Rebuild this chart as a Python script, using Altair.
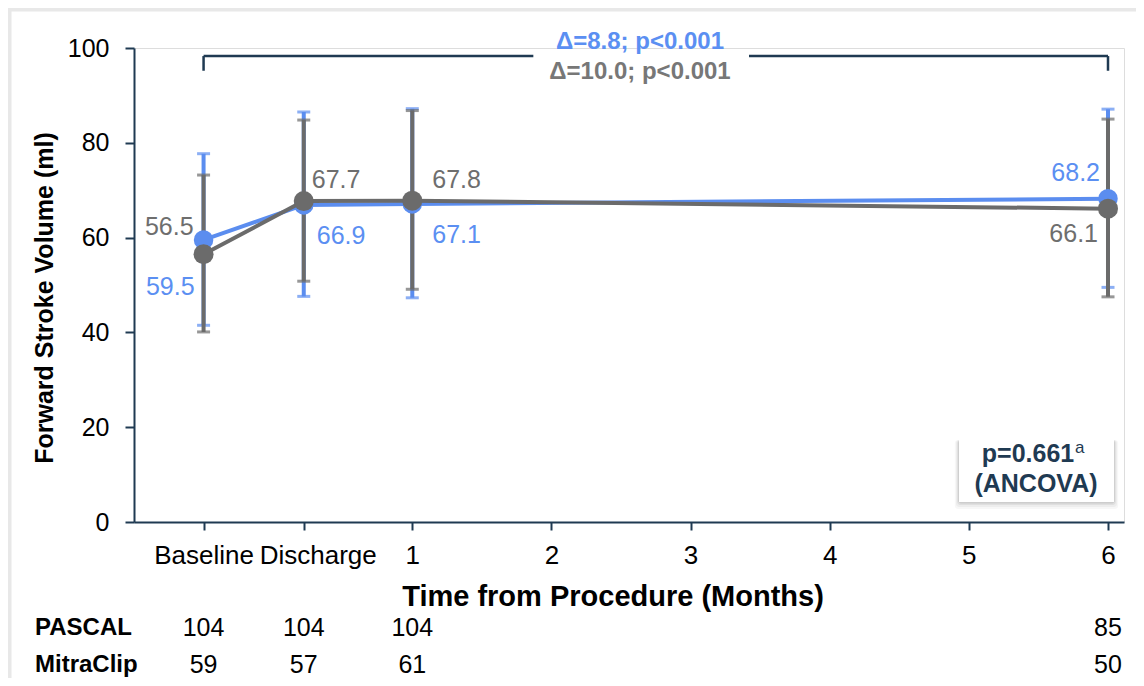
import altair as alt
import pandas as pd

# ------------------------- data -------------------------
tick_pos = [-0.5, 0.22, 1, 2, 3, 4, 5, 6]
tick_labels = ["Baseline", "Discharge", "1", "2", "3", "4", "5", "6"]
y_ticks = [0, 20, 40, 60, 80, 100]

visit_pos = [-0.5, 0.22, 1, 6]
pascal_mean = [59.5, 66.9, 67.1, 68.2]
pascal_lo = [41.5, 47.6, 47.3, 49.5]
pascal_hi = [77.7, 86.5, 87.2, 87.1]
mitra_mean = [56.5, 67.7, 67.8, 66.1]
mitra_lo = [40.1, 50.8, 49.1, 47.5]
mitra_hi = [73.2, 84.8, 86.8, 85.0]
pascal_n = [104, 104, 104, 85]
mitra_n = [59, 57, 61, 50]
row_names = ["PASCAL", "MitraClip"]

annot_pascal = "Δ=8.8; p<0.001"
annot_mitra = "Δ=10.0; p<0.001"
box_line1 = "p=0.661"
box_sup = "a"
box_line2 = "(ANCOVA)"
x_title = "Time from Procedure (Months)"
y_title = "Forward Stroke Volume (ml)"

# ------------------------- style -------------------------
FONT = "Liberation Sans"
BLUE = "#5b8def"
GRAY = "#6b6b6b"
BLUE_TXT = "#5b8ff2"
GRAY_TXT = "#6e6e6e"
NAVY = "#1f3a52"
W, H = 990, 474

bracket_x = [-0.5, 6]
bracket_gap = [1.87, 3.42]
bracket_y, bracket_drop = 98.3, 95.2

# label placement (align, dx, dy) per visit
lab_pascal = [("right", -9, 47), ("left", 13, 31), ("left", 20, 31), ("right", -8, -26)]
lab_mitra = [("right", -10, -27), ("left", 8, -21), ("left", 20, -21), ("right", -10, 25)]

# ------------------------- frames -------------------------
pas = pd.DataFrame({"t": visit_pos, "m": pascal_mean, "lo": pascal_lo, "hi": pascal_hi, "n": pascal_n})
mit = pd.DataFrame({"t": visit_pos, "m": mitra_mean, "lo": mitra_lo, "hi": mitra_hi, "n": mitra_n})

xs = alt.Scale(domain=[-1, 6.115], nice=False, zero=False)
ys = alt.Scale(domain=[0, 100], nice=False)

label_expr = ""
for p, l in zip(tick_pos, tick_labels):
    label_expr += f"datum.value == {p} ? '{l}' : "
label_expr += "''"

xaxis = alt.Axis(values=tick_pos, labelExpr=label_expr, title=None, grid=False,
                 domainColor=NAVY, domainWidth=2, tickColor=NAVY, tickWidth=2, tickSize=8,
                 labelFont=FONT, labelFontSize=26, labelColor="#000000", labelPadding=12,
                 labelOverlap=False, labelFlush=False, labelBound=False,
                 labelOffset={"condition": {"test": "datum.value == 0.22", "value": 14}, "value": 0})
yaxis = alt.Axis(values=y_ticks, title=None, grid=False,
                 domainColor=NAVY, domainWidth=2, tickColor=NAVY, tickWidth=2, tickSize=9,
                 labelFont=FONT, labelFontSize=25, labelColor="#000000", labelPadding=16)


def X(f):
    return alt.X(f"{f}:Q", scale=xs, axis=xaxis)


def Y(f):
    return alt.Y(f"{f}:Q", scale=ys, axis=yaxis)


layers = []


def errbars(df, color):
    rule = alt.Chart(df).mark_rule(color=color, strokeWidth=4).encode(x=X("t"), y=Y("lo"), y2="hi:Q")
    cap_lo = alt.Chart(df).mark_tick(color=color, orient="horizontal", size=13, thickness=3).encode(x=X("t"), y=Y("lo"))
    cap_hi = alt.Chart(df).mark_tick(color=color, orient="horizontal", size=13, thickness=3).encode(x=X("t"), y=Y("hi"))
    return [rule, cap_lo, cap_hi]


layers += errbars(pas, BLUE)
layers += errbars(mit, GRAY)

layers.append(alt.Chart(pas).mark_line(color=BLUE, strokeWidth=4).encode(x=X("t"), y=Y("m")))
layers.append(alt.Chart(pas).mark_circle(color=BLUE, size=380, opacity=1).encode(x=X("t"), y=Y("m")))
layers.append(alt.Chart(mit).mark_line(color=GRAY, strokeWidth=4).encode(x=X("t"), y=Y("m")))
layers.append(alt.Chart(mit).mark_circle(color=GRAY, size=400, opacity=1).encode(x=X("t"), y=Y("m")))

# point labels
for df, styles, col in [(pas, lab_pascal, BLUE_TXT), (mit, lab_mitra, GRAY_TXT)]:
    for i, (al, dx, dy) in enumerate(styles):
        layers.append(
            alt.Chart(df.iloc[[i]]).mark_text(align=al, dx=dx, dy=dy, baseline="middle", font=FONT,
                                              fontSize=25, color=col)
            .encode(x=X("t"), y=Y("m"), text=alt.Text("m:Q", format=".1f"))
        )

# bracket
br = pd.DataFrame({"t": [bracket_x[0], bracket_gap[1]], "t2": [bracket_gap[0], bracket_x[1]], "v": [bracket_y, bracket_y]})
layers.append(alt.Chart(br).mark_rule(color=NAVY, strokeWidth=2.5).encode(x=X("t"), x2="t2:Q", y=Y("v")))
bv = pd.DataFrame({"t": bracket_x, "v": [bracket_y] * 2, "v2": [bracket_drop] * 2})
layers.append(alt.Chart(bv).mark_rule(color=NAVY, strokeWidth=2.5).encode(x=X("t"), y=Y("v"), y2="v2:Q"))


# annotation texts (pixel-positioned)
def ptext(txt, x, y, size, color, weight="normal", align="center", angle=0):
    return alt.Chart(pd.DataFrame({"s": [txt]})).mark_text(
        font=FONT, fontSize=size, color=color, fontWeight=weight, align=align, baseline="middle", angle=angle
    ).encode(x=alt.value(x), y=alt.value(y), text="s:N")


layers.append(ptext(annot_pascal, 506, -6, 24, BLUE_TXT, "bold"))
layers.append(ptext(annot_mitra, 506, 24, 24, "#777777", "bold"))

# box with soft shadow
for grow, op in [(7, 0.03), (5, 0.04), (3, 0.06), (1.5, 0.08)]:
    layers.append(alt.Chart(pd.DataFrame({"a": [0]})).mark_rect(color="#000000", opacity=op, cornerRadius=3).encode(
        x=alt.value(825 - grow * 0.6), x2=alt.value(980 + grow * 0.6),
        y=alt.value(392), y2=alt.value(454 + grow)))
layers.append(alt.Chart(pd.DataFrame({"a": [0]})).mark_rect(color="#ffffff", opacity=1).encode(
    x=alt.value(825), x2=alt.value(980), y=alt.value(389), y2=alt.value(454)))
layers.append(ptext(box_line1, 894, 406, 25, NAVY, "bold"))
layers.append(ptext(box_sup, 941, 400, 17, NAVY, "normal", align="left"))
layers.append(ptext(box_line2, 902, 436, 25, NAVY, "bold"))

# axis titles
layers.append(ptext(x_title, 479, 549, 29, "#000000", "bold"))
layers.append(ptext(y_title, -89, 250, 25, "#000000", "bold", angle=270))

# table of N
layers.append(ptext(row_names[0], -99, 580, 24, "#000000", "bold", align="left"))
layers.append(ptext(row_names[1], -99, 617, 24, "#000000", "bold", align="left"))
layers.append(alt.Chart(pas).mark_text(font=FONT, fontSize=25, color="#000000", baseline="middle").encode(
    x=X("t"), y=alt.value(580), text="n:Q"))
layers.append(alt.Chart(mit).mark_text(font=FONT, fontSize=25, color="#000000", baseline="middle").encode(
    x=X("t"), y=alt.value(617), text="n:Q"))

# light frame at left/top edge of the slide
layers.append(alt.Chart(pd.DataFrame({"a": [0]})).mark_rule(color="#e8e8e8", strokeWidth=4).encode(
    x=alt.value(-124.5), y=alt.value(-38.5), y2=alt.value(640)))
layers.append(alt.Chart(pd.DataFrame({"a": [0]})).mark_rule(color="#e8e8e8", strokeWidth=4).encode(
    x=alt.value(-126), x2=alt.value(1010), y=alt.value(-38.5)))

chart = alt.layer(*layers).properties(
    width=W, height=H,
    autosize=alt.AutoSizeParams(type="none"),
    padding={"left": 126, "top": 40, "right": 12, "bottom": 156},
).configure_view(stroke=None).configure(background="white")

chart.save("out.html", embed_options={"renderer": "svg", "actions": False})
